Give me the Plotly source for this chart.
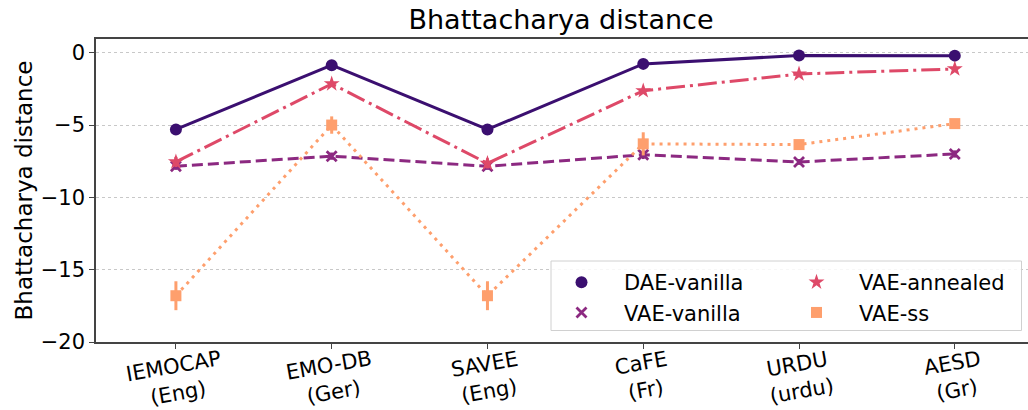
import plotly.graph_objects as go

categories = ["IEMOCAP<br>(Eng)", "EMO-DB<br>(Ger)", "SAVEE<br>(Eng)", "CaFE<br>(Fr)", "URDU<br>(urdu)", "AESD<br>(Gr)"]
x_idx = [0, 1, 2, 3, 4, 5]

dae_vanilla = [-5.3, -0.86, -5.3, -0.77, -0.19, -0.2]
dae_err = [0.08, 0.08, 0.08, 0.08, 0.05, 0.05]
vae_vanilla = [-7.85, -7.15, -7.85, -7.05, -7.55, -7.0]
vae_vanilla_err = [0.25, 0.25, 0.25, 0.3, 0.2, 0.25]
vae_annealed = [-7.55, -2.15, -7.65, -2.63, -1.47, -1.12]
vae_annealed_err = [0.35, 0.2, 0.35, 0.15, 0.1, 0.1]
vae_ss = [-16.8, -5.0, -16.8, -6.3, -6.35, -4.9]
vae_ss_err = [1.0, 0.6, 1.0, 0.8, 0.2, 0.25]

colors = {"DAE-vanilla": "#3b0f70", "VAE-vanilla": "#8c2981",
          "VAE-annealed": "#de4968", "VAE-ss": "#fe9f6d"}

series = [
    ("DAE-vanilla", dae_vanilla, dae_err, "solid", "circle", 12, "legend"),
    ("VAE-vanilla", vae_vanilla, vae_vanilla_err, "11px,5px", "x-thin", 10, "legend"),
    ("VAE-annealed", vae_annealed, vae_annealed_err, "19px,5px,3px,5px", "star", 12, "legend2"),
    ("VAE-ss", vae_ss, vae_ss_err, "3px,5px", "square", 11, "legend2"),
]

fig = go.Figure()
for name, vals, err, dash, sym, size, leg in series:
    c = colors[name]
    fig.add_trace(go.Scatter(x=x_idx, y=vals, mode="lines", showlegend=False,
                             line=dict(color=c, width=3, dash=dash), hoverinfo="skip"))
    marker = dict(color=c, size=size, symbol=sym)
    if sym == "x-thin":
        marker["line"] = dict(color=c, width=2.8)
    fig.add_trace(go.Scatter(x=x_idx, y=vals, mode="markers", name=name, legend=leg,
                             marker=marker,
                             error_y=dict(type="data", array=err, color=c, thickness=3, width=0)))

W, H = 1028, 410
L, R, T, B = 96, 0, 39, 68
pw = W - L - R
ph = H - T - B

def px_x(p):
    return (p - L) / pw

def px_y(p):
    return (H - B - p) / ph

font = "DejaVu Sans"
axcol = "#444444"

for xi, lab in zip(x_idx, categories):
    fig.add_annotation(x=xi, y=0, xref="x", yref="paper", text=lab, showarrow=False,
                       textangle=-10, xanchor="center", yanchor="top", yshift=-2,
                       font=dict(size=21, family=font, color="#000000"))

fig.update_layout(
    width=W, height=H,
    margin=dict(l=L, r=R, t=T, b=B, autoexpand=False),
    paper_bgcolor="white", plot_bgcolor="white",
    font=dict(family=font, size=21, color="#000000"),
    title=dict(text="Bhattacharya distance", x=561 / W, xanchor="center",
               y=1 - 20 / H, yanchor="middle", font=dict(size=27, family=font), automargin=False),
    xaxis=dict(range=[-0.513, 5.47], tickmode="array", tickvals=x_idx, showticklabels=False,
               showgrid=False, zeroline=False, automargin=False,
               showline=True, mirror=True, linecolor=axcol, linewidth=1.5,
               ticks="outside", ticklen=5, tickcolor=axcol),
    yaxis=dict(range=[-20, 0.95], tickmode="array", tickvals=[0, -5, -10, -15, -20],
               showgrid=True, gridcolor="#c8c8c8", griddash="dot", gridwidth=1,
               zeroline=False, showline=True, mirror=False, linecolor=axcol, linewidth=1.5,
               ticks="outside", ticklen=5, tickcolor=axcol, tickfont=dict(size=21),
               automargin=False,
               title=dict(text="Bhattacharya distance", font=dict(size=23), standoff=2)),
    legend=dict(x=px_x(539), y=px_y(262), xanchor="left", yanchor="top",
                bgcolor="rgba(0,0,0,0)", borderwidth=0, itemwidth=75,
                font=dict(size=21), tracegroupgap=0),
    legend2=dict(x=px_x(774), y=px_y(262), xanchor="left", yanchor="top",
                 bgcolor="rgba(0,0,0,0)", borderwidth=0, itemwidth=75,
                 font=dict(size=21), tracegroupgap=0),
    shapes=[dict(type="rect", xref="paper", yref="paper",
                 x0=px_x(551), x1=px_x(1021.5), y0=px_y(330.5), y1=px_y(261),
                 fillcolor="rgba(255,255,255,0.85)", line=dict(color="#d0d0d0", width=1),
                 layer="above")],
)

fig.write_html("out.html", config={"displayModeBar": False},
               post_script="document.body.style.margin='0';document.body.style.overflow='hidden';")
